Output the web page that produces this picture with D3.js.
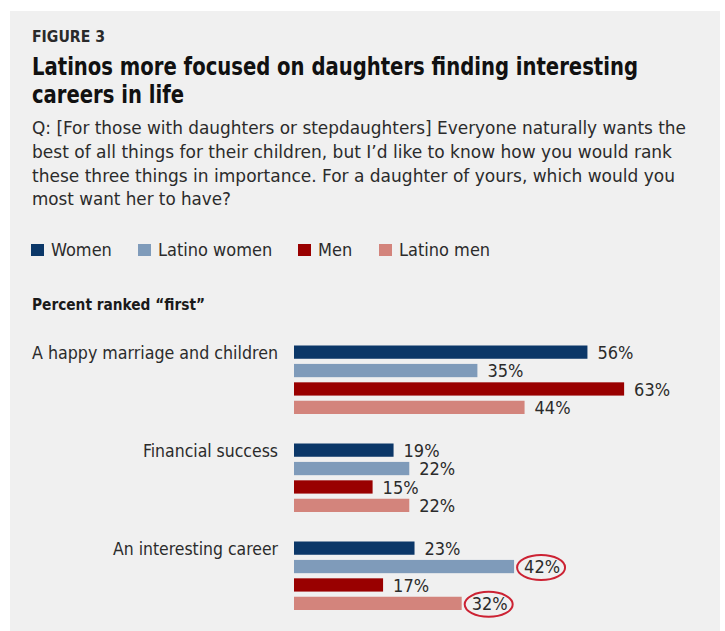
<!DOCTYPE html>
<html>
<head>
<meta charset="utf-8">
<script src="https://cdn.jsdelivr.net/npm/d3@7"></script>
<style>
  body { margin: 0; background: #fff; }
  svg text { font-family: "Liberation Sans Narrow", "DejaVu Sans Condensed", sans-serif; }
</style>
</head>
<body>
<div id="chart"></div>
<script>
// Data
const categories = ["A happy marriage and children", "Financial success", "An interesting career"];
const series = ["Women", "Latino women", "Men", "Latino men"];
const colors = ["#0b3768", "#7f9bba", "#990000", "#d3847c"];
const values = [
  [56, 35, 63, 44],   // happy marriage
  [19, 22, 15, 22],   // financial success
  [23, 42, 17, 32]    // interesting career
];
// labels that are circled in red
const circled = [[2, 1], [2, 3]];

const titleLines = ["Latinos more focused on daughters finding interesting", "careers in life"];
const questionLines = [
  "Q: [For those with daughters or stepdaughters] Everyone naturally wants the",
  "best of all things for their children, but I\u2019d like to know how you would rank",
  "these three things in importance. For a daughter of yours, which would you",
  "most want her to have?"
];

const W = 725, H = 631;

const svg = d3.select("#chart").append("svg")
    .attr("width", W)
    .attr("height", H);

// gray panel
svg.append("rect")
    .attr("x", 10).attr("y", 11)
    .attr("width", 710).attr("height", 620)
    .attr("fill", "#f0f0f0");

// stretch/shrink a text so it spans a given width
function fit(sel, w) {
  sel.each(function() {
    const len = this.getComputedTextLength();
    if (Math.abs(len - w) > 2) {
      d3.select(this).attr("textLength", w).attr("lengthAdjust", "spacingAndGlyphs");
    }
  });
}

svg.append("text")
    .attr("x", 32).attr("y", 42)
    .attr("font-size", 15).attr("font-weight", "bold")
    .attr("fill", "#2a2a2a")
    .text("FIGURE 3")
    .call(fit, 73);

const titleW = [606, 152];
svg.selectAll(".title").data(titleLines).enter().append("text")
    .attr("class", "title")
    .attr("x", 32).attr("y", (d, i) => 75 + i * 28)
    .attr("font-size", 25).attr("font-weight", "bold")
    .attr("fill", "#111")
    .text(d => d)
    .each(function(d, i) { d3.select(this).call(fit, titleW[i]); });

const qW = [654, 640, 643, 199];
svg.selectAll(".q").data(questionLines).enter().append("text")
    .attr("class", "q")
    .attr("x", 32).attr("y", (d, i) => 134 + i * 23.8)
    .attr("font-size", 18)
    .attr("fill", "#2b2b2b")
    .text(d => d)
    .each(function(d, i) { d3.select(this).call(fit, qW[i]); });

// legend
const legX = [31, 138, 298, 379];
const legW = [62, 114, 35, 91];
const legend = svg.selectAll(".leg").data(series).enter().append("g")
    .attr("class", "leg")
    .attr("transform", (d, i) => `translate(${legX[i]},244)`);
legend.append("rect")
    .attr("width", 13).attr("height", 12)
    .attr("fill", (d, i) => colors[i]);
legend.append("text")
    .attr("x", 20).attr("y", 12)
    .attr("font-size", 18)
    .attr("fill", "#2b2b2b")
    .text(d => d)
    .each(function(d, i) { d3.select(this).call(fit, legW[i]); });

svg.append("text")
    .attr("x", 32).attr("y", 310)
    .attr("font-size", 16).attr("font-weight", "bold")
    .attr("fill", "#1a1a1a")
    .text("Percent ranked \u201cfirst\u201d")
    .call(fit, 173);

// scales
const x = d3.scaleLinear().domain([0, 100]).range([294, 818]);
const y0 = d3.scaleBand().domain(categories).range([345.5, 345.5 + 3 * 98]);
const y1 = d3.scaleBand().domain(series).range([0, 68.5]).paddingInner(0.28);

const groups = svg.selectAll(".grp").data(categories).enter().append("g")
    .attr("class", "grp")
    .attr("transform", d => `translate(0,${y0(d)})`);

const catW = [246, 135, 165];
groups.append("text")
    .attr("x", 278)
    .attr("y", y1.bandwidth() / 2)
    .attr("dy", "0.36em")
    .attr("text-anchor", "end")
    .attr("font-size", 18)
    .attr("fill", "#2b2b2b")
    .text(d => d)
    .each(function(d, i) { d3.select(this).call(fit, catW[i]); });

const cells = groups.selectAll(".cell")
    .data((d, ci) => values[ci].map((v, si) => ({ v, si, ci })))
    .enter().append("g")
    .attr("class", "cell");

cells.append("rect")
    .attr("x", x(0))
    .attr("y", d => y1(series[d.si]))
    .attr("width", d => x(d.v) - x(0))
    .attr("height", y1.bandwidth())
    .attr("fill", d => colors[d.si]);

cells.append("text")
    .attr("x", d => x(d.v) + 10)
    .attr("y", d => y1(series[d.si]) + y1.bandwidth() / 2)
    .attr("dy", "0.38em")
    .attr("font-size", 18)
    .attr("fill", "#2b2b2b")
    .text(d => d.v + "%")
    .call(fit, 35);

// red ellipses around highlighted labels
cells.filter(d => circled.some(c => c[0] === d.ci && c[1] === d.si))
  .append("ellipse")
    .attr("cx", d => x(d.v) + 27)
    .attr("cy", d => y1(series[d.si]) + y1.bandwidth() / 2 + 1)
    .attr("rx", 24).attr("ry", 12.5)
    .attr("fill", "none")
    .attr("stroke", "#cc2233")
    .attr("stroke-width", 2);
</script>
</body>
</html>
